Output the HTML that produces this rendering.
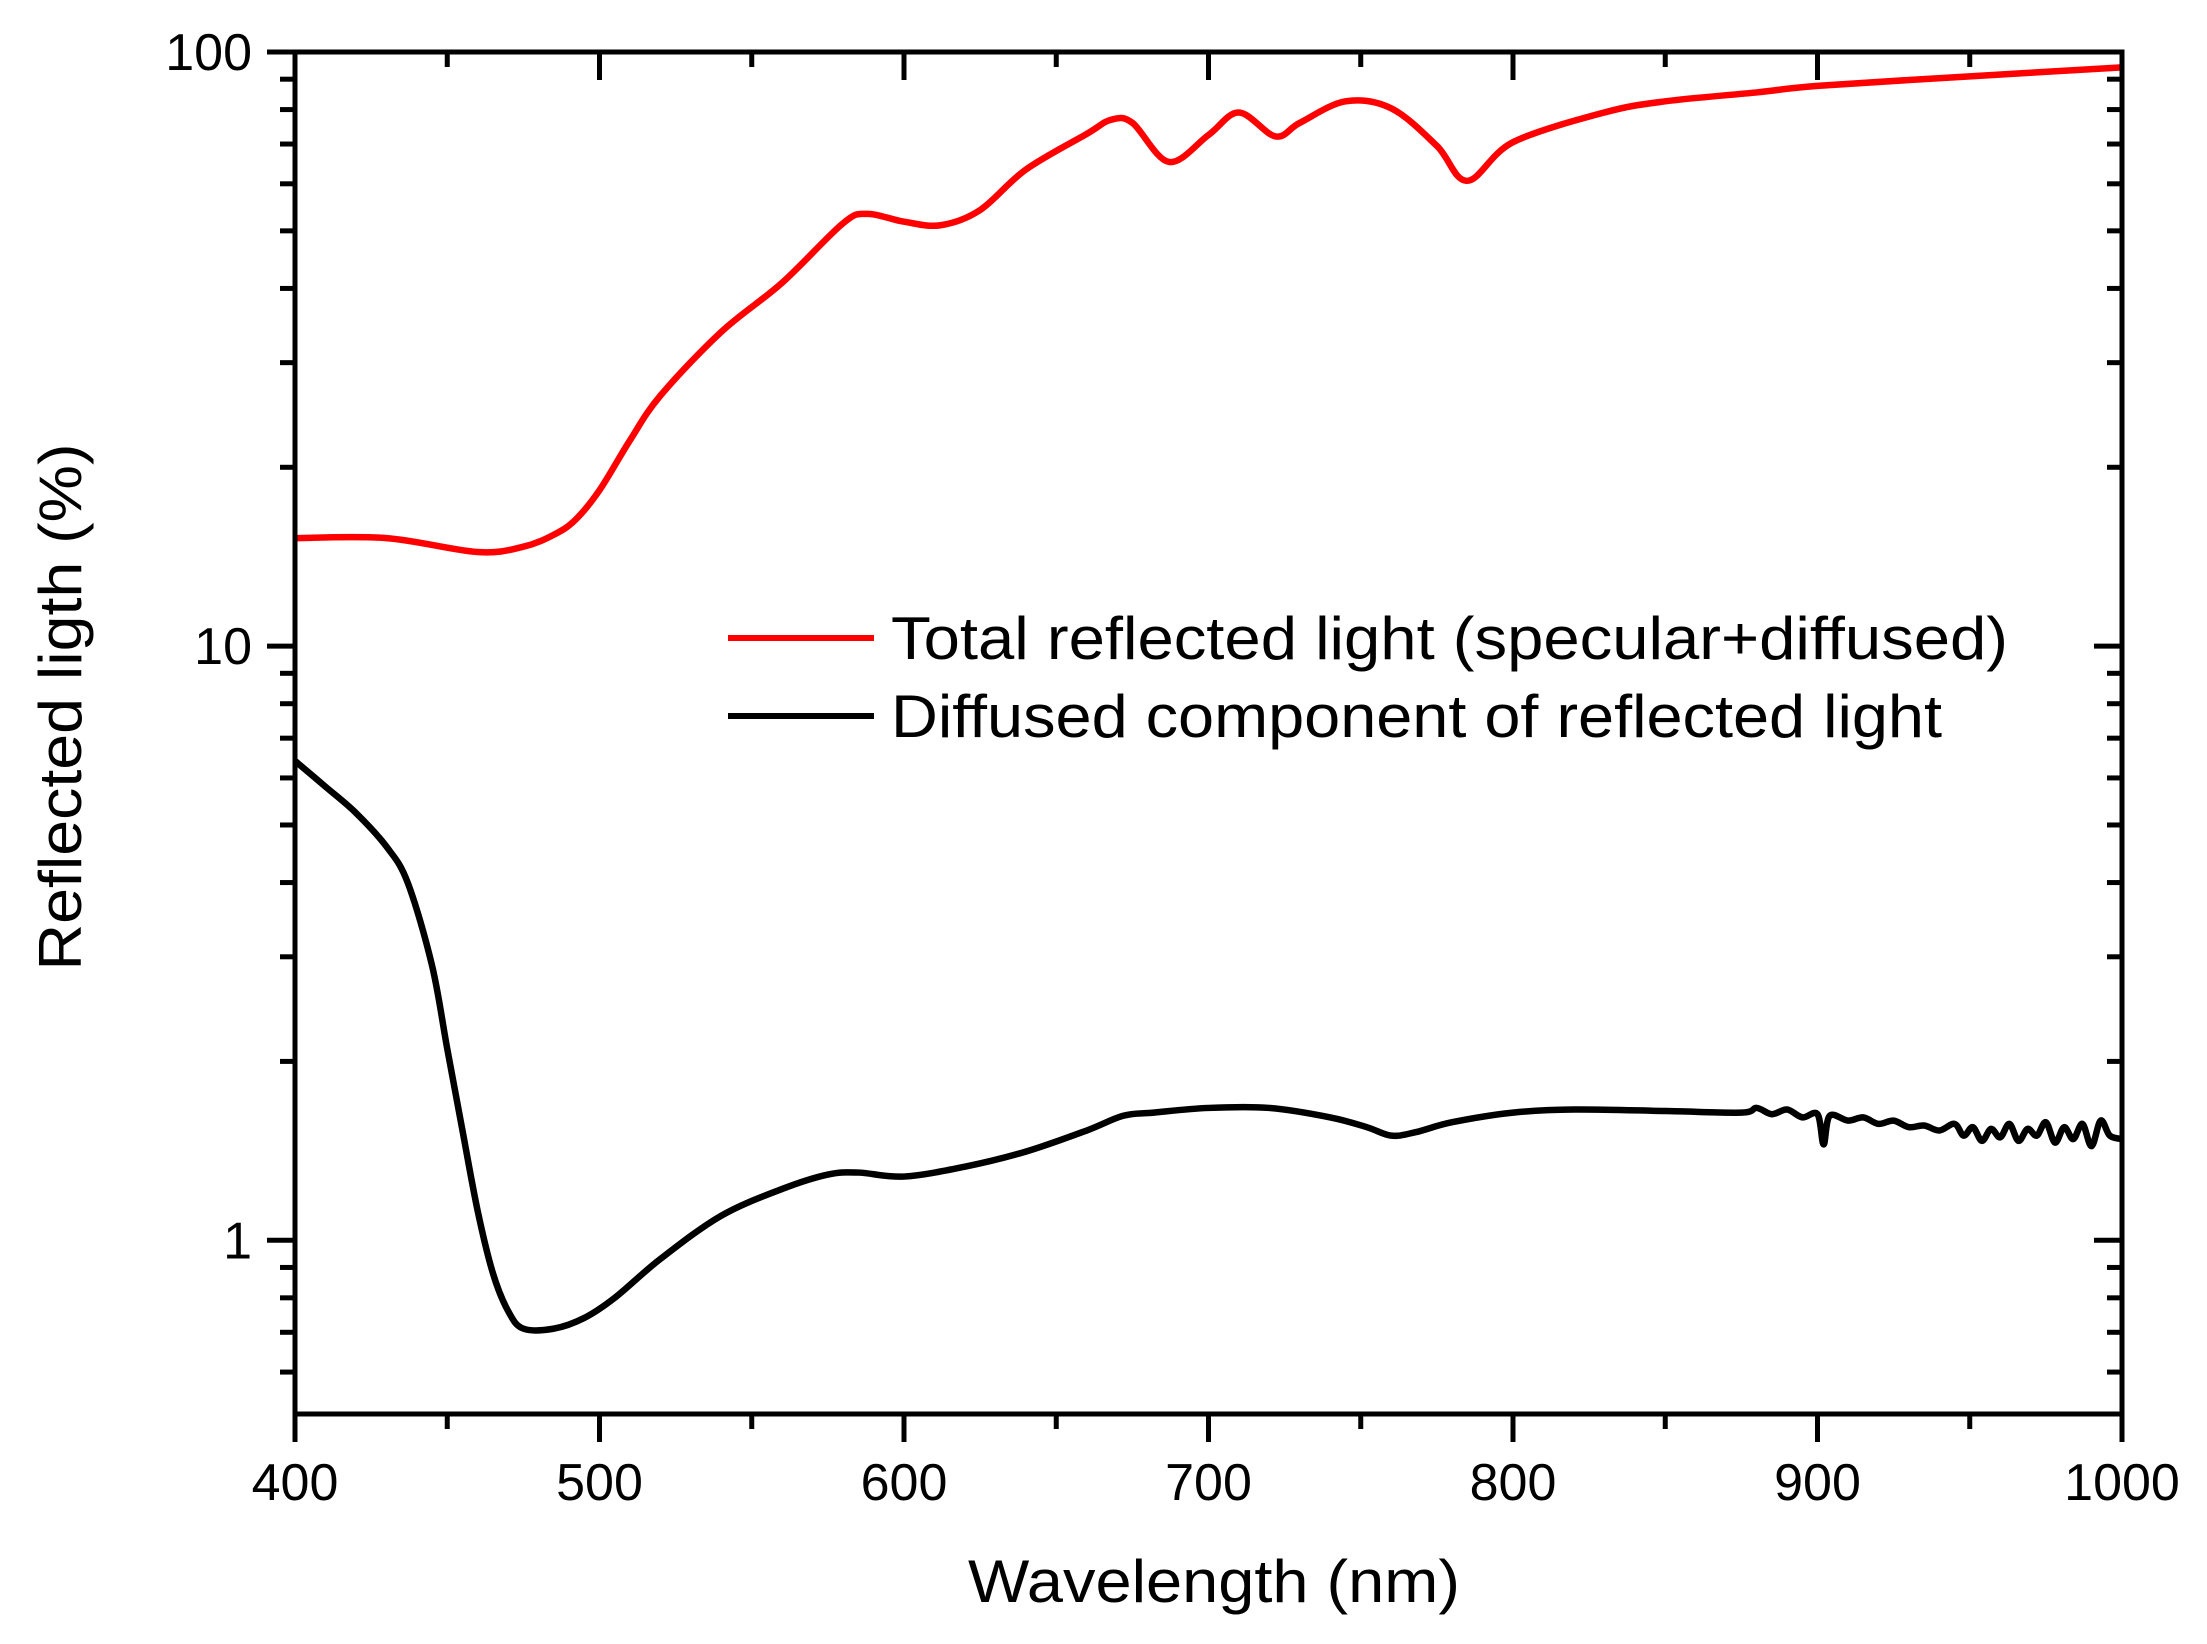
<!DOCTYPE html>
<html><head><meta charset="utf-8"><style>
html,body{margin:0;padding:0;background:#fff;}
svg{display:block;font-family:"Liberation Sans",Arial,sans-serif;}
</style></head><body>
<svg id="chart" width="2207" height="1644" viewBox="0 0 2207 1644" xmlns="http://www.w3.org/2000/svg">
<g id="plot"></g>
</svg>
<script>
const totalX=[400,430,460,475,485,492,500,510,520,540,560,580,588,600,612,625,640,660,668,675,687,700,710,722,730,745,760,775,785,800,830,850,880,900,950,1000];
const totalY=[15.2,15.2,14.4,14.7,15.4,16.3,18.3,22.2,26.4,33.8,40.9,51.5,53.4,51.8,51.1,54.2,63.4,72.8,76.9,76.0,65.3,72.5,79.1,72.1,76.0,82.6,80.4,69.5,60.7,70.5,79.1,82.6,85.5,87.7,91.0,94.2];
const diffX=[400,410,420,430,437,445,450,455,460,465,470,475,485,495,505,520,540,560,575,585,600,620,640,660,672,682,700,720,740,752,760,768,780,800,820,850,875,880,885,890,895,900,902,904,910,915,920,925,930,935,940,945,948,951,954,957,960,963,966,969,972,975,978,981,984,987,990,993,996,1000];
const diffY=[6.41,5.8,5.24,4.6,4.0,2.9,2.1,1.53,1.12,0.88,0.76,0.71,0.71,0.74,0.80,0.93,1.10,1.22,1.29,1.30,1.28,1.33,1.41,1.53,1.62,1.64,1.67,1.67,1.61,1.55,1.50,1.52,1.58,1.64,1.66,1.65,1.64,1.67,1.63,1.66,1.61,1.63,1.45,1.62,1.59,1.61,1.57,1.59,1.55,1.56,1.53,1.57,1.50,1.55,1.47,1.54,1.49,1.57,1.47,1.54,1.50,1.58,1.46,1.55,1.48,1.57,1.44,1.59,1.50,1.48];
const xTicks=[400,500,600,700,800,900,1000];
const yTicks=[1,10,100];
const legendLabels=["Total reflected light (specular+diffused)","Diffused component of reflected light"];

const L=295,R=2122,T=52,B=1414,XMIN=400,XMAX=1000,YMIN=0.51,YMAX=100;
const sx=v=>L+(v-XMIN)/(XMAX-XMIN)*(R-L);
const sy=v=>T+(Math.log10(YMAX)-Math.log10(v))/(Math.log10(YMAX)-Math.log10(YMIN))*(B-T);
const NS="http://www.w3.org/2000/svg";
const g=document.getElementById('plot');
function mk(tag,attrs,parent){const e=document.createElementNS(NS,tag);for(const k in attrs)e.setAttribute(k,attrs[k]);(parent||g).appendChild(e);return e;}
function pathD(xs,ys){let pts=xs.map((x,i)=>[sx(x),sy(ys[i])]);let d='M'+pts[0][0]+','+pts[0][1];
for(let i=0;i<pts.length-1;i++){const p0=pts[i-1]||pts[i],p1=pts[i],p2=pts[i+1],p3=pts[i+2]||p2;
const c1=[p1[0]+(p2[0]-p0[0])/6,p1[1]+(p2[1]-p0[1])/6],c2=[p2[0]-(p3[0]-p1[0])/6,p2[1]-(p3[1]-p1[1])/6];
d+=` C${c1[0]},${c1[1]} ${c2[0]},${c2[1]} ${p2[0]},${p2[1]}`;}return d;}

let s1=mk('path',{d:pathD(totalX,totalY),fill:'none',stroke:'#ff0000','stroke-width':6.5});


let s2=mk('path',{d:pathD(diffX,diffY),fill:'none',stroke:'#000','stroke-width':6.5,'stroke-linejoin':'round'});



let fr=mk('rect',{x:L,y:T,width:R-L,height:B-T,fill:'none',stroke:'#000','stroke-width':5});



for(let v=XMIN;v<=XMAX;v+=50){const x=sx(v);const major=v%100===0;
let t=mk('line',{x1:x,x2:x,y1:B,y2:B+(major?28:15),stroke:'#000','stroke-width':5});


let t2=mk('line',{x1:x,x2:x,y1:T,y2:T+(major?28:15),stroke:'#000','stroke-width':5});

}
xTicks.forEach(v=>{let t=mk('text',{x:sx(v),y:1500,'font-size':52,'text-anchor':'middle',fill:'#000'});t.textContent=v;

});

const yMinor=[];for(let d of [0.1,1,10])for(let m=1;m<10;m++){const v=d*m;if(v>=YMIN&&v<=YMAX)yMinor.push(v);}
yMinor.push(100);
yMinor.forEach(v=>{const y=sy(v);const major=yTicks.includes(Math.round(v*1000)/1000);
let t=mk('line',{x1:L-(major?28:15),x2:L,y1:y,y2:y,stroke:'#000','stroke-width':5});


let t2=mk('line',{x1:R-(major?28:15),x2:R,y1:y,y2:y,stroke:'#000','stroke-width':5});

});
yTicks.forEach(v=>{let t=mk('text',{x:252,y:sy(v)+18,'font-size':52,'text-anchor':'end',fill:'#000'});t.textContent=v;

});

let xt=mk('text',{x:1214,y:1602,'font-size':60,'text-anchor':'middle',fill:'#000',textLength:492,lengthAdjust:'spacingAndGlyphs'});xt.textContent='Wavelength (nm)';


let yt=mk('text',{x:0,y:0,'font-size':60,'text-anchor':'middle',fill:'#000',transform:'translate(81,707) rotate(-90)',textLength:527,lengthAdjust:'spacingAndGlyphs'});yt.textContent='Reflected ligth (%)';



const legColors=['#ff0000','#000'];const legY=[638,716];const legW=[1117,1051];
legendLabels.forEach((lab,i)=>{
let ln=mk('line',{x1:728,x2:874,y1:legY[i],y2:legY[i],stroke:legColors[i],'stroke-width':6});


let tx=mk('text',{x:891,y:legY[i]+21,'font-size':60,fill:'#000',textLength:legW[i],lengthAdjust:'spacingAndGlyphs'});tx.textContent=lab;

});
</script>
</body></html>
